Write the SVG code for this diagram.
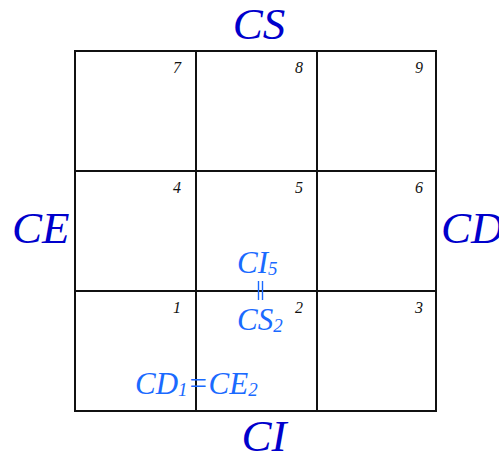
<svg xmlns="http://www.w3.org/2000/svg" width="499" height="457" viewBox="0 0 499 457">
<style>
.g{stroke:#111;stroke-width:2;fill:none}
.n{font-family:"Liberation Serif",serif;font-style:italic;font-size:16px;fill:#111;text-anchor:end}
.big{font-family:"Liberation Serif",serif;font-style:italic;font-size:45px;fill:#0000CC}
.lb{font-family:"Liberation Serif",serif;font-style:italic;font-size:31px;fill:#1a6aff}
.sub{font-size:19px}
</style>
<rect width="499" height="457" fill="#fff"/>
<g id="grid">
<rect class="g" x="75" y="51" width="361" height="360"/>
<line class="g" x1="196" y1="51" x2="196" y2="411"/>
<line class="g" x1="317" y1="51" x2="317" y2="411"/>
<line class="g" x1="75" y1="171" x2="436" y2="171"/>
<line class="g" x1="75" y1="291" x2="436" y2="291"/>
</g>
<g id="numbers">
<text class="n" x="181" y="73">7</text>
<text class="n" x="303" y="73">8</text>
<text class="n" x="423" y="73">9</text>
<text class="n" x="181" y="193">4</text>
<text class="n" x="303" y="193">5</text>
<text class="n" x="423" y="193">6</text>
<text class="n" x="181" y="313">1</text>
<text class="n" x="303" y="313">2</text>
<text class="n" x="423" y="313">3</text>
</g>
<g id="sides">
<text class="big" x="259" y="39" text-anchor="middle">CS</text>
<text class="big" x="12" y="243">CE</text>
<text class="big" x="441" y="243">CD</text>
<text class="big" x="264" y="451" text-anchor="middle">CI</text>
</g>
<g id="labels">
<text class="lb" x="237" y="273">CI<tspan class="sub" dy="2">5</tspan></text>
<line x1="258.5" y1="281" x2="258.5" y2="300" stroke="#1a6aff" stroke-width="1.4"/>
<line x1="262.5" y1="281" x2="262.5" y2="300" stroke="#1a6aff" stroke-width="1.4"/>
<text class="lb" x="237" y="330">CS<tspan class="sub" dy="2">2</tspan></text>
<text class="lb" x="135" y="394">CD<tspan class="sub" dy="2">1</tspan><tspan dy="-2">=CE</tspan><tspan class="sub" dy="2">2</tspan></text>
</g>
</svg>
